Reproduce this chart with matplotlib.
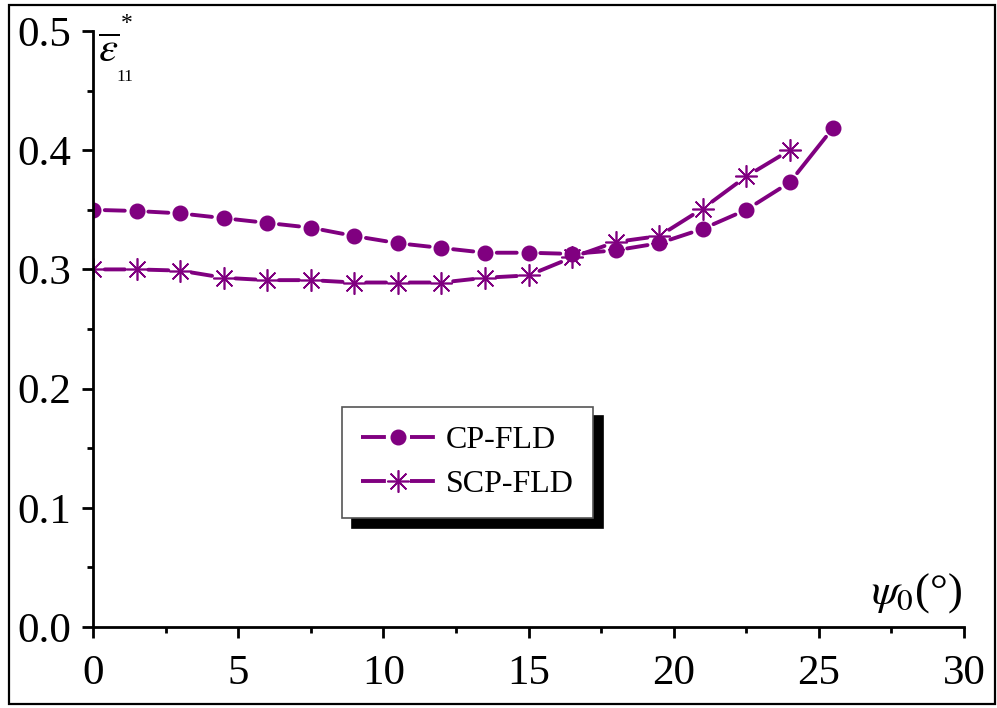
import matplotlib.pyplot as plt
from matplotlib.lines import Line2D
from matplotlib.patches import Rectangle
from matplotlib.ticker import MultipleLocator, FormatStrFormatter

plt.rcParams['font.family'] = ['Liberation Serif', 'DejaVu Serif']
plt.rcParams['mathtext.fontset'] = 'stix'

purple = '#800080'

# limit strain vs initial orientation angle
psi_cp = [0, 1.5, 3, 4.5, 6, 7.5, 9, 10.5, 12, 13.5, 15, 16.5, 18, 19.5, 21, 22.5, 24, 25.5]
eps_cp = [0.350, 0.349, 0.347, 0.343, 0.339, 0.335, 0.328, 0.322, 0.318, 0.314, 0.314,
          0.313, 0.316, 0.322, 0.334, 0.350, 0.373, 0.419]

psi_scp = [0, 1.5, 3, 4.5, 6, 7.5, 9, 10.5, 12, 13.5, 15, 16.5, 18, 19.5, 21, 22.5, 24]
eps_scp = [0.300, 0.300, 0.299, 0.293, 0.291, 0.291, 0.289, 0.289, 0.289, 0.293, 0.295,
           0.310, 0.323, 0.328, 0.351, 0.378, 0.400]

fig = plt.figure(figsize=(9.97, 7.08), dpi=100)
ax = fig.add_axes([0.0933, 0.1144, 0.8736, 0.8418])

lw = 2.8


def connect(xs, ys):
    # one dash between neighbouring points, stopping short of the symbols
    for i in range(len(xs) - 1):
        ax.annotate('', xy=(xs[i + 1], ys[i + 1]), xytext=(xs[i], ys[i]),
                    arrowprops=dict(arrowstyle='-', color=purple, lw=lw,
                                    shrinkA=8.5, shrinkB=8.5))


connect(psi_cp, eps_cp)
connect(psi_scp, eps_scp)
ax.plot(psi_cp, eps_cp, ls='none', color=purple, marker='o', markersize=10.5)
ax.plot(psi_scp, eps_scp, ls='none', color=purple, marker=(8, 2, 0),
        markersize=16, markeredgewidth=1.2)

ax.set_xlim(0, 30)
ax.set_ylim(0, 0.5)
ax.xaxis.set_major_locator(MultipleLocator(5))
ax.xaxis.set_minor_locator(MultipleLocator(2.5))
ax.yaxis.set_major_locator(MultipleLocator(0.1))
ax.yaxis.set_minor_locator(MultipleLocator(0.05))
ax.yaxis.set_major_formatter(FormatStrFormatter('%.1f'))

for s in ['top', 'right']:
    ax.spines[s].set_visible(False)
for s in ['left', 'bottom']:
    ax.spines[s].set_linewidth(2)
ax.tick_params(which='major', direction='out', length=8, width=2, labelsize=31)
ax.tick_params(axis='y', which='major', pad=8)
ax.tick_params(axis='x', which='major', pad=12)
ax.tick_params(which='minor', direction='out', length=4.5, width=2)

# y label: strain symbol with star and subscript placed by hand
ax.text(0.006, 0.998, r'$\overline{\varepsilon}$', transform=ax.transAxes,
        fontsize=31, ha='left', va='top')
ax.text(0.039, 1.012, '*', transform=ax.transAxes, fontsize=17, ha='center', va='center')
ax.text(0.0365, 0.922, '11', transform=ax.transAxes, fontsize=12.5, ha='center', va='center')

ax.text(0.998, 0.02, r'$\psi_0$(°)', transform=ax.transAxes, fontsize=32,
        ha='right', va='bottom')

handles = [
    Line2D([], [], color=purple, lw=lw, dashes=(6.4, 6.2), marker='o', markersize=10.5),
    Line2D([], [], color=purple, lw=lw, dashes=(6.4, 6.2), marker=(8, 2, 0),
           markersize=16, markeredgewidth=1.2),
]
leg = ax.legend(handles, ['CP-FLD', 'SCP-FLD'], loc='lower left',
                bbox_to_anchor=(0.286, 0.183), borderaxespad=0,
                fontsize=23, handlelength=2.3, handletextpad=0.35, fancybox=False,
                framealpha=1, edgecolor='#555555', borderpad=0.6, labelspacing=0.45,
                shadow={'ox': 7, 'oy': -7, 'facecolor': 'black', 'edgecolor': 'black',
                        'alpha': 1})
leg.get_frame().set_linewidth(1.2)

# outer frame round the figure
fig.patches.append(Rectangle((0.009, 0.006), 0.989, 0.987, transform=fig.transFigure,
                             fill=False, edgecolor='black', lw=1.6))

fig.savefig('out.png', dpi=100)
